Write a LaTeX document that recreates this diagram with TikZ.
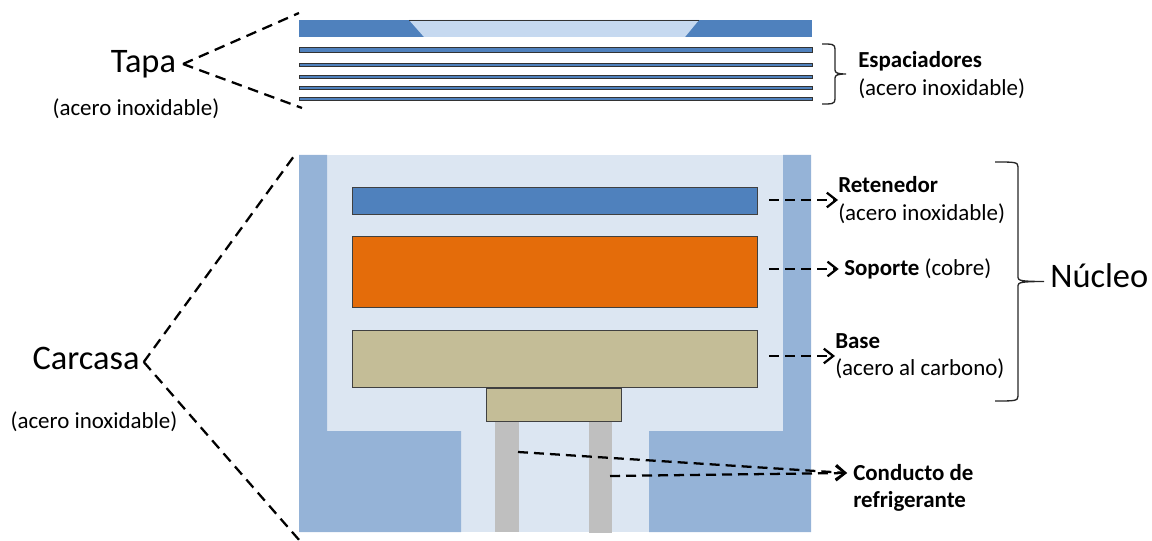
\documentclass[tikz,border=0pt]{standalone}
\usepackage{fontspec}
\setmainfont{Carlito}
\usepackage{tikz}
\usetikzlibrary{arrows.meta}
\usetikzlibrary{positioning}
\definecolor{azulClaro}{HTML}{DCE6F2}
\definecolor{azulMedio}{HTML}{95B3D7}
\definecolor{azul}{HTML}{4F81BD}
\definecolor{azulTapa}{HTML}{C6D9F0}
\definecolor{naranja}{HTML}{E46C0A}
\definecolor{beige}{HTML}{C4BD97}
\definecolor{gris}{HTML}{BFBFBF}
\tikzstyle{pieza}=[inner sep=0,outer sep=0,draw=none]
\tikzstyle{bloque}=[pieza,draw=black!75,line width=0.5pt]
\tikzstyle{disco}=[pieza,draw=black!80,line width=0.7pt,fill=azul]
\tikzstyle{corte}=[line width=1.7pt,dash pattern=on 8pt off 5pt]
\tikzstyle{flecha}=[line width=1.7pt,dash pattern=on 7.5pt off 4.5pt,-{Straight Barb[length=7pt,width=11pt,line width=1.7pt]},shorten <=9pt]
\tikzstyle{llave}=[line width=1pt,black!85]
\tikzstyle{grande}=[font=\fontsize{25.8}{30}\selectfont,inner sep=0]
\tikzstyle{texto}=[font=\fontsize{17.2}{20.5}\selectfont,inner sep=0,align=left]
\newcommand{\rect}[7][pieza]{\node[#1,#7,minimum width={(#5-#3)*0.75pt},minimum height={(#6-#4)*0.75pt}] (#2) at ({(#3+#5)/2},{(#4+#6)/2}) {};}
\newcommand{\llaveDer}[5]{\draw[llave] (#1,#4) .. controls (#2-3,#4) and (#2,#4) .. (#2,#4+5) -- (#2,{(#4+#5)/2-4}) .. controls (#2,{(#4+#5)/2-1}) and (#2+3,{(#4+#5)/2}) .. (#3,{(#4+#5)/2}) .. controls (#2+3,{(#4+#5)/2}) and (#2,{(#4+#5)/2+1}) .. (#2,{(#4+#5)/2+4}) -- (#2,#5-5) .. controls (#2,#5) and (#2-3,#5) .. (#1,#5);}
\begin{document}
\begin{tikzpicture}[x=0.75pt,y=-0.75pt]
	\useasboundingbox (0,0) rectangle (1152,541);
	% tapa
	\rect{placa}{299}{20}{812}{37}{fill=azul}
	\fill[azulTapa] (409,20) -- (699,20) -- (685,37) -- (424,37) -- cycle;
	\draw[line width=0.6pt,black!80] (409,20) -- (699,20);
	\rect[disco]{disco1}{299}{47}{812}{52}{}
	\rect[disco]{disco2}{299}{63}{812}{66}{}
	\rect[disco]{disco3}{299}{75}{812}{78}{}
	\rect[disco]{disco4}{299}{86}{812}{89}{}
	\rect[disco]{disco5}{299}{97}{812}{100}{}
	% carcasa
	\rect{fondo}{299}{155}{811}{532}{fill=azulClaro}
	\fill[azulMedio] (299,155) -- (327,155) -- (327,431) -- (461,431) -- (461,532) -- (299,532) -- cycle;
	\fill[azulMedio] (811,155) -- (783,155) -- (783,431) -- (649,431) -- (649,532) -- (811,532) -- cycle;
	\rect{tubo1}{495}{421}{519}{532}{fill=gris}
	\rect{tubo2}{589}{421}{612}{533}{fill=gris}
	\rect[bloque]{retenedor}{352}{187}{757}{214}{fill=azul}
	\rect[bloque]{soporte}{352}{236}{757}{307}{fill=naranja}
	\rect[bloque]{base}{352}{330}{757}{387}{fill=beige}
	\rect[bloque]{cuello}{486.5}{388}{621.5}{421}{fill=beige}
	% textos
	\node[grande] (tapa) at (143.5,64) {Tapa};
	\node[texto] (tapaMat) at (136,109) {(acero inoxidable)};
	\node[grande] (carcasa) at (86,358) {Carcasa};
	\node[texto] (carcasaMat) at (94,422) {(acero inoxidable)};
	\node[grande,anchor=west] (nucleo) at (1050,276) {Núcleo};
	\node[texto,anchor=west] (espTxt) at (858,75) {\textbf{Espaciadores}\\(acero inoxidable)};
	\node[texto,anchor=west] (retTxt) at (838,200) {\textbf{Retenedor}\\(acero inoxidable)};
	\node[texto,anchor=west] (sopTxt) at (844,269) {\textbf{Soporte} (cobre)};
	\node[texto,anchor=west] (basTxt) at (835,356) {\textbf{Base}\\(acero al carbono)};
	\node[texto,anchor=west] (conTxt) at (853,488) {\textbf{Conducto de}\\\textbf{refrigerante}};
	% cortes
	\coordinate[right=5pt of tapa] (tapaV);
	\coordinate[right=3pt of carcasa,yshift=-3pt] (carV);
	\coordinate (tapaA) at (299,13);
	\coordinate (tapaB) at (302,108);
	\coordinate (carA) at (297,152);
	\coordinate (carB) at (300,541);
	\draw[corte] (tapaV) -- (tapaA);
	\draw[corte] (tapaV) -- (tapaB);
	\draw[corte] (carV) -- (carA);
	\draw[corte] (carV) -- (carB);
	% flechas
	\draw[flecha] (retenedor.east |- retTxt.west) -- (retTxt.west);
	\draw[flecha,shorten >=4pt] (soporte.east |- sopTxt.west) -- (sopTxt.west);
	\draw[flecha] (base.east |- basTxt.west) -- (basTxt.west);
	\coordinate (tubo1p) at (518,452);
	\coordinate (tubo2p) at (610,476);
	\coordinate (conFin) at (847,473);
	\draw[flecha,shorten <=0pt] (tubo1p) -- (conFin);
	\draw[flecha,shorten <=0pt] (tubo2p) -- (conFin);
	% llaves
	\llaveDer{822}{835}{846}{44}{104}
	\llaveDer{995}{1018}{1044}{162}{401}
\end{tikzpicture}
\end{document}
